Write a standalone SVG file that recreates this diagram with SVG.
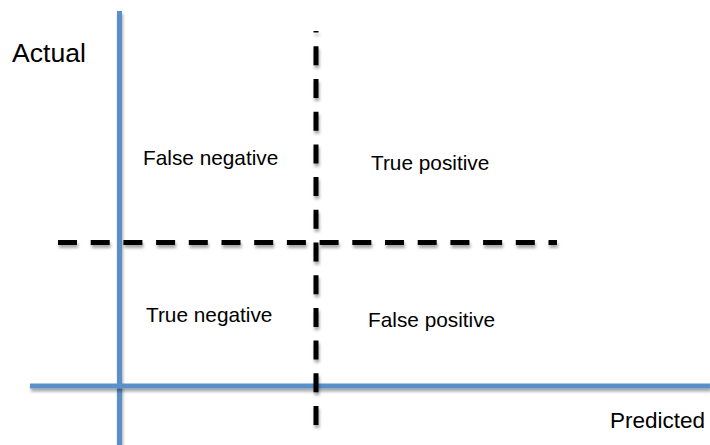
<svg xmlns="http://www.w3.org/2000/svg" width="710" height="445" viewBox="0 0 710 445">
  <defs>
    <filter id="sh" filterUnits="userSpaceOnUse" x="0" y="0" width="710" height="445">
      <feDropShadow dx="1" dy="3" stdDeviation="1.5" flood-color="#000" flood-opacity="0.35"/>
    </filter>
  </defs>
  <style>
    .axis { stroke: #5a8fc9; stroke-width: 5; fill: none; filter: url(#sh); }
    .dash { stroke: #000; stroke-width: 5; fill: none; stroke-dasharray: 19 13.7; filter: url(#sh); }
    .lbl { font-family: "Liberation Sans", Arial, sans-serif; font-size: 20.8px; fill: #000; }
    .ax { font-family: "Liberation Sans", Arial, sans-serif; font-size: 26.6px; fill: #000; }
    .ax2 { font-family: "Liberation Sans", Arial, sans-serif; font-size: 22.5px; fill: #000; }
  </style>
  <rect width="710" height="445" fill="#fff"/>
  <g id="connectors">
    <line class="axis" x1="119.5" y1="11" x2="119.5" y2="445"/>
    <line class="axis" x1="30" y1="386" x2="710" y2="386"/>
    <line class="dash" x1="58" y1="242.5" x2="557" y2="242.5"/>
    <line class="dash" x1="316" y1="425" x2="316" y2="31"/>
  </g>
  <g id="axis-actual"><text class="ax" x="12" y="62">Actual</text></g>
  <g id="axis-predicted"><text class="ax2" x="705" y="428" text-anchor="end">Predicted</text></g>
  <g id="false-negative"><text class="lbl" x="143" y="165">False negative</text></g>
  <g id="true-positive"><text class="lbl" x="371" y="170">True positive</text></g>
  <g id="true-negative"><text class="lbl" x="146" y="322">True negative</text></g>
  <g id="false-positive"><text class="lbl" x="368" y="327">False positive</text></g>
</svg>
